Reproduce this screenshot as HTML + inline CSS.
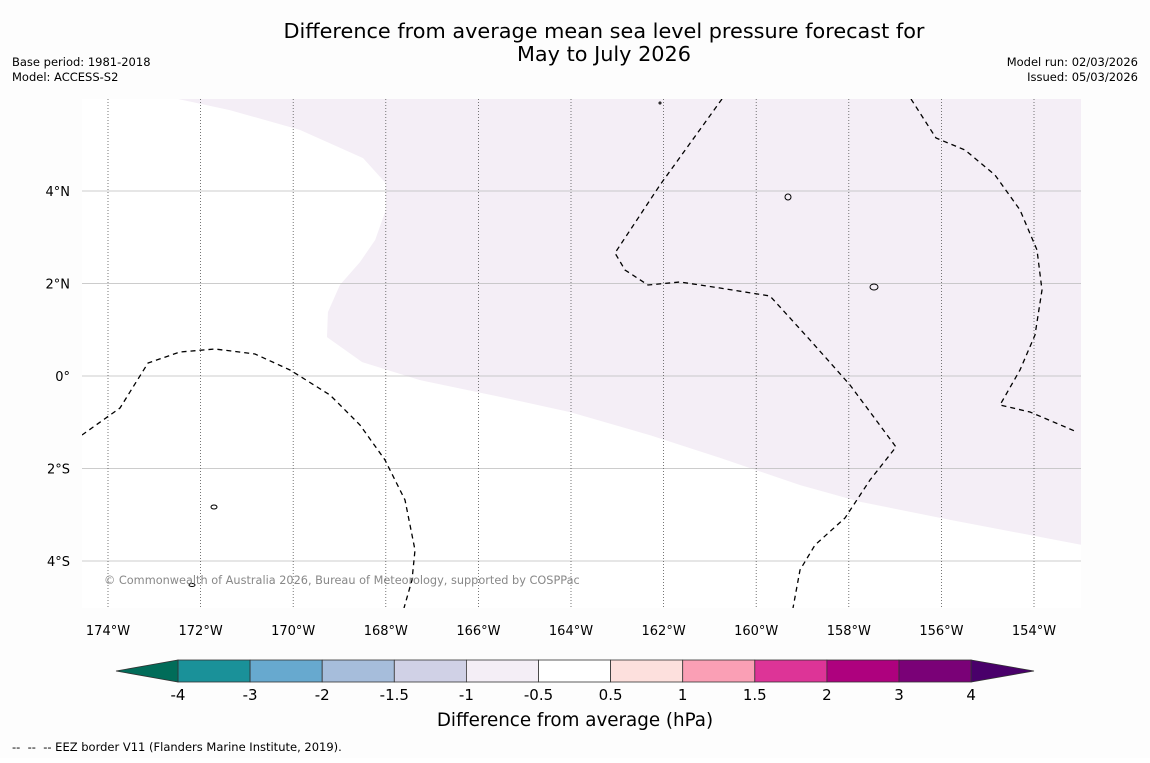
<!DOCTYPE html>
<html><head><meta charset="utf-8"><style>
body{margin:0;background:#fff;font-family:"Liberation Sans","DejaVu Sans",sans-serif;}
svg text{font-family:"DejaVu Sans","Liberation Sans",sans-serif;}
</style></head><body>
<svg id="c" width="1150" height="758" xmlns="http://www.w3.org/2000/svg">
<rect width="1150" height="758" fill="#fdfdfd"/>
<text x="604" y="38" font-size="20.8" text-anchor="middle">Difference from average mean sea level pressure forecast for</text>
<text x="604" y="61" font-size="20.8" text-anchor="middle">May to July 2026</text>
<text x="12" y="66" font-size="11.5">Base period: 1981-2018</text>
<text x="12" y="81" font-size="11.5">Model: ACCESS-S2</text>
<text x="1138" y="66" font-size="11.5" text-anchor="end">Model run: 02/03/2026</text>
<text x="1138" y="81" font-size="11.5" text-anchor="end">Issued: 05/03/2026</text>
<defs><clipPath id="mc"><rect x="82" y="99" width="999" height="509"/></clipPath></defs>
<g id="map" clip-path="url(#mc)"><rect x="82" y="99" width="999" height="509" fill="#fff"/></g>
<g id="axes"></g>
<g id="cbar"></g>
<text x="575" y="726" font-size="18.3" text-anchor="middle">Difference from average (hPa)</text>
<text x="12" y="751" font-size="11.5" xml:space="preserve" style="white-space:pre">--  --  -- EEZ border V11 (Flanders Marine Institute, 2019).</text>
</svg>
<script>
const lonTicks=[-174,-172,-170,-168,-166,-164,-162,-160,-158,-156,-154];
const latTicks=[4,2,0,-2,-4];
const levels=[-4,-3,-2,-1.5,-1,-0.5,0.5,1,1.5,2,3,4];
const levelLabels=["-4","-3","-2","-1.5","-1","-0.5","0.5","1","1.5","2","3","4"];
const binColors=["#1a9199","#67a9cf","#a6bddb","#d0d1e6","#f4eef6","#ffffff","#fde0dd","#fa9fb5","#dd3497","#ae017e","#7a0177"];
const lowColor="#016c59", highColor="#49006a";
const shadeLon=[-172.49,-171.37,-169.85,-168.49,-168.0,-168.0,-168.23,-168.56,-168.99,-169.25,-169.27,-168.51,-167.26,-165.53,-164.02,-162.29,-160.78,-159.05,-157.76,-155.81,-152.98,-152.98];
const shadeLat=[5.99,5.75,5.32,4.71,4.17,3.59,2.94,2.46,1.97,1.38,0.84,0.30,-0.09,-0.45,-0.78,-1.28,-1.77,-2.36,-2.72,-3.11,-3.65,5.99];
const NS="http://www.w3.org/2000/svg";
const X=lon=>108+(lon+174)*46.3, Y=lat=>376-lat*46.25;
function el(t,a,p){const e=document.createElementNS(NS,t);for(const k in a)e.setAttribute(k,a[k]);p.appendChild(e);return e;}
const map=document.getElementById('map'),axes=document.getElementById('axes'),cb=document.getElementById('cbar');
let sh=el('polygon',{points:shadeLon.map((l,i)=>X(l)+','+Y(shadeLat[i])).join(' '),fill:'#f4eef6'},map);


latTicks.forEach(v=>{let l=el('line',{x1:82,x2:1081,y1:Y(v),y2:Y(v),stroke:'#bbb','stroke-width':0.8},map);


let t=el('text',{x:70,y:Y(v)+5,'font-size':13,'text-anchor':'end'},axes);t.textContent=v==0?'0°':Math.abs(v)+'°'+(v>0?'N':'S');

});
lonTicks.forEach(v=>{let l=el('line',{x1:X(v),x2:X(v),y1:99,y2:608,stroke:'#555','stroke-width':0.8,'stroke-dasharray':'1,2'},map);


let t=el('text',{x:X(v),y:635,'font-size':13,'text-anchor':'middle'},axes);t.textContent=Math.abs(v)+'°W';

});
const eez=[
[[82,435],[120,408],[148,363],[180,352],[215,349],[255,354],[290,370],[330,395],[360,425],[385,460],[405,500],[415,550],[412,580],[404,608]],
[[722,99],[660,185],[615,253],[625,270],[648,285],[680,282],[720,288],[770,296],[810,340],[850,385],[896,447],[870,480],[845,518],[815,545],[800,570],[793,608]],
[[911,99],[936,138],[965,150],[995,175],[1020,210],[1037,250],[1042,290],[1035,335],[1020,370],[1000,405],[1030,412],[1077,432]]];
eez.forEach(p=>{let l=el('polyline',{points:p.join(' '),fill:'none',stroke:'#000','stroke-width':1.3,'stroke-dasharray':'5,4'},map);

});
[[214,507,3,2],[788,197,3,3],[874,287,4,3],[192,585,3,1.5],[660,103,1,1]].forEach(a=>{let e=el('ellipse',{cx:a[0],cy:a[1],rx:a[2],ry:a[3],fill:'none',stroke:'#000','stroke-width':1},map);

});
let cr=el('text',{x:104,y:584,'font-size':11.3,fill:'#888'},map);cr.textContent='© Commonwealth of Australia 2026, Bureau of Meteorology, supported by COSPPac';


const W=72.1;
const CX=i=>178+i*W;
binColors.forEach((c,i)=>{let r=el('rect',{x:CX(i),y:660,width:W,height:22,fill:c,stroke:'#333','stroke-width':0.8},cb);

});
let lt=el('polygon',{points:'116,671 178,660 178,682',fill:lowColor,stroke:'#333','stroke-width':0.8},cb);


let rt=el('polygon',{points:`${CX(11)},660 1034,671 ${CX(11)},682`,fill:highColor,stroke:'#333','stroke-width':0.8},cb);


levels.forEach((v,i)=>{let t=el('text',{x:CX(i),y:700,'font-size':15,'text-anchor':'middle'},cb);t.textContent=levelLabels[i];

});
</script>
</body></html>
